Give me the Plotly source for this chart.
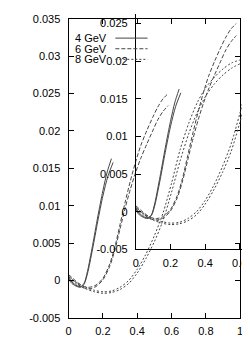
import plotly.graph_objects as go

# ---------------- data ----------------
energies = ["4 GeV", "6 GeV", "8 GeV"]

x_4a = [0, 0.02, 0.05, 0.07, 0.09, 0.11, 0.14, 0.17, 0.20, 0.225, 0.25]
y_4a = [0.0004, -0.0002, -0.0007, -0.0008, -0.0004, 0.0012, 0.0047, 0.0085, 0.0120, 0.0145, 0.0163]
x_4b = [0, 0.02, 0.05, 0.07, 0.09, 0.11, 0.14, 0.17, 0.20, 0.23, 0.26]
y_4b = [0.0002, -0.0004, -0.0008, -0.0009, -0.0005, 0.0009, 0.0042, 0.0079, 0.0113, 0.0140, 0.0158]

x_6 = [0, 0.04, 0.08, 0.12, 0.16, 0.20, 0.24, 0.27, 0.30, 0.33, 0.36, 0.39, 0.42, 0.455, 0.49, 0.52, 0.55, 0.58]
y_6a = [0.0008, 0.0000, -0.0007, -0.0009, -0.0006, 0.0003, 0.0022, 0.0045, 0.0075, 0.0105, 0.0133, 0.0158,
        0.0180, 0.0200, 0.0218, 0.0232, 0.0243, 0.0250]
y_6b = [0.0006, -0.0002, -0.0009, -0.0011, -0.0008, 0.0001, 0.0019, 0.0041, 0.0069, 0.0097, 0.0122, 0.0144,
        0.0163, 0.0182, 0.0200, 0.0215, 0.0226, 0.0234]

x_8 = [0, 0.05, 0.10, 0.15, 0.20, 0.25, 0.30, 0.35, 0.40, 0.45, 0.50, 0.55, 0.60, 0.65, 0.70, 0.75,
       0.80, 0.85, 0.90, 0.95, 1.0]
y_8a = [0.0005, -0.0003, -0.0009, -0.0013, -0.0015, -0.0014, -0.0009, 0.0000, 0.0015, 0.0035, 0.0060,
        0.0090, 0.0130, 0.0175, 0.0210, 0.0238, 0.0258, 0.0272, 0.0283, 0.0291, 0.0295]
y_8b = [0.0003, -0.0005, -0.0011, -0.0015, -0.0017, -0.0016, -0.0012, -0.0004, 0.0010, 0.0029, 0.0052,
        0.0080, 0.0118, 0.0160, 0.0196, 0.0225, 0.0247, 0.0263, 0.0275, 0.0284, 0.0290]

main_x_ticks = [0, 0.2, 0.4, 0.6, 0.8, 1]
main_x_labels = ["0", "0.2", "0.4", "0.6", "0.8", "1"]
main_y_ticks = [-0.005, 0, 0.005, 0.01, 0.015, 0.02, 0.025, 0.03, 0.035]
main_y_labels = ["-0.005", "0", "0.005", "0.01", "0.015", "0.02", "0.025", "0.03", "0.035"]
inset_x_ticks = [0, 0.2, 0.4, 0.6]
inset_x_labels = ["0", "0.2", "0.4", "0.6"]
inset_y_ticks = [-0.005, 0, 0.005, 0.01, 0.015, 0.02, 0.025]
inset_y_labels = ["-0.005", "0", "0.005", "0.01", "0.015", "0.02", "0.025"]

# ---------------- styling ----------------
# the page body has an 8px margin, so the figure sits at (8, 8) in the window
OFF = 8
W, H = 250 - OFF, 350 - OFF
FONT = "Liberation Sans, Arial, sans-serif"
LC = "#444444"
dashes = {"4 GeV": "solid", "6 GeV": "4px,2px", "8 GeV": "2px,2px"}


def px_x(p):
    return (p - OFF) / W


def px_y(p):
    return 1 - (p - OFF) / H


curves = [
    ("4 GeV", x_4a, y_4a), ("4 GeV", x_4b, y_4b),
    ("6 GeV", x_6, y_6a), ("6 GeV", x_6, y_6b),
    ("8 GeV", x_8, y_8a), ("8 GeV", x_8, y_8b),
]

fig = go.Figure()
for xa, ya in [("x", "y"), ("x2", "y2")]:
    for name, xs, ys in curves:
        fig.add_trace(go.Scatter(
            x=xs, y=ys, mode="lines", xaxis=xa, yaxis=ya, showlegend=False,
            line=dict(color=LC, width=1, dash=dashes[name], shape="spline", smoothing=0.8),
            hoverinfo="skip"))

axis_common = dict(showgrid=False, zeroline=False, showline=True, linecolor="black",
                   linewidth=1, ticks="inside", ticklen=5, tickcolor="black",
                   ticklabeloverflow="allow",
                   tickfont=dict(family=FONT, size=11, color="black"))

# inset: 0 -> 0.642 spans screen x 136..250 ; y -0.005 at screen 252, 0.0273 at screen 0
inset_top = 0.0273 - 0.0323 * OFF / 252

fig.update_layout(
    width=W, height=H, margin=dict(l=0, r=0, t=0, b=0),
    paper_bgcolor="white", plot_bgcolor="rgba(0,0,0,0)",
    showlegend=False,
    xaxis=dict(domain=[px_x(67), px_x(243)], range=[0, 1], mirror="ticks",
               tickvals=main_x_ticks, ticktext=main_x_labels, ticklabelstandoff=3, **axis_common),
    yaxis=dict(domain=[px_y(323), px_y(13)], range=[-0.005, 0.035], mirror="ticks",
               tickvals=main_y_ticks, ticktext=main_y_labels, ticklabelstandoff=5, **axis_common),
    xaxis2=dict(domain=[px_x(136), 1], range=[0, 0.642], anchor="y2", mirror=False,
                tickvals=inset_x_ticks, ticktext=inset_x_labels, ticklabelstandoff=3, **axis_common),
    yaxis2=dict(domain=[px_y(252), 1], range=[-0.005, inset_top], anchor="x2", mirror=False,
                tickvals=inset_y_ticks, ticktext=inset_y_labels, ticklabelstandoff=5, **axis_common),
)

# gnuplot-style key: text then sample line
for i, name in enumerate(energies):
    yy = px_y(33 + 11 * i)
    fig.add_annotation(x=px_x(108), y=yy, xref="paper", yref="paper", text=name, showarrow=False,
                       xanchor="right", yanchor="middle",
                       font=dict(family=FONT, size=11, color="black"))
    fig.add_shape(type="line", xref="paper", yref="paper", x0=px_x(115), x1=px_x(148), y0=yy, y1=yy,
                  line=dict(color=LC, width=1, dash=dashes[name]))

fig.write_html("out.html")
